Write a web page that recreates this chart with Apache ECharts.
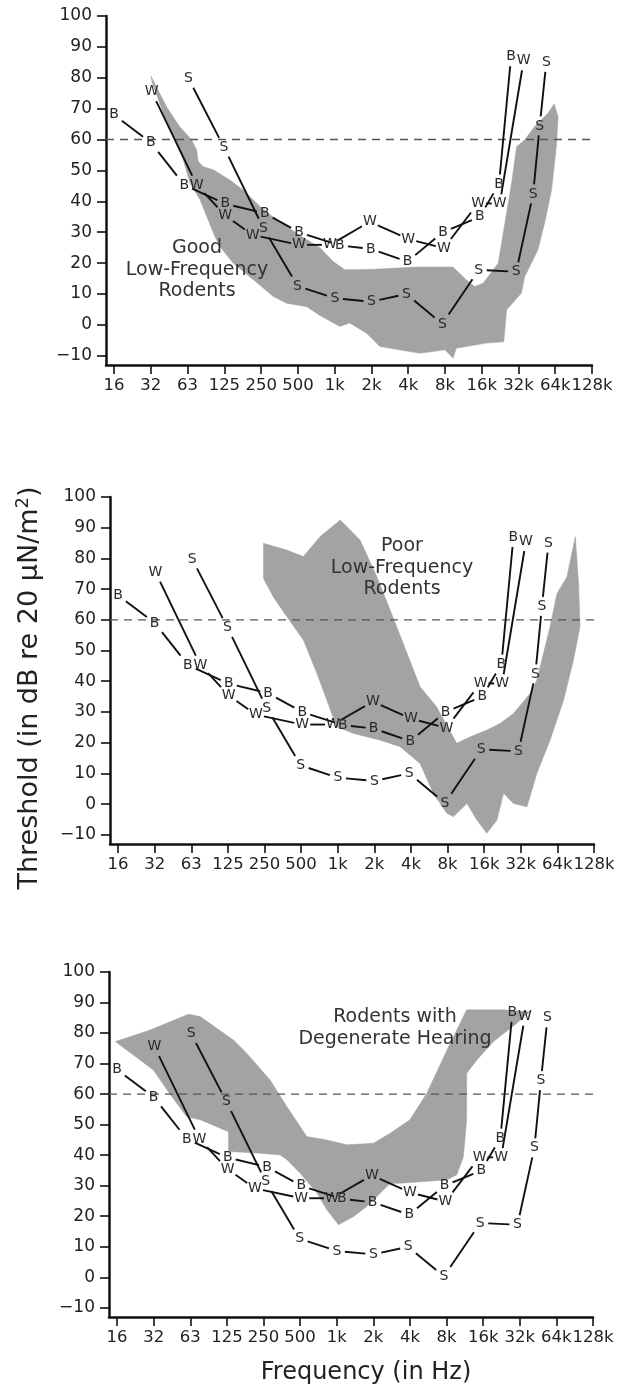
<!DOCTYPE html>
<html><head><meta charset="utf-8">
<script src="https://cdn.jsdelivr.net/npm/echarts@6/dist/echarts.min.js"></script>
<style>html,body{margin:0;padding:0;background:#fff}#c{width:624px;height:1387px}</style>
</head><body><div id="c"></div>
<script>
// ---------- data ----------
const freqTickHz = [16,32,64,128,256,512,1024,2048,4096,8192,16384,32768,65536,131072];
const freqTickLabels = ['16','32','63','125','250','500','1k','2k','4k','8k','16k','32k','64k','128k'];
const dbTicks = [-10,0,10,20,30,40,50,60,70,80,90,100];
const refLevelDb = 60;

// [Hz, dB]
const speciesB = [[16,68],[32,59],[60,45.3],[130,39.2],[274,36.1],[523,30],[1130,25.7],[2020,24.6],[4040,20.5],[7900,30],[15800,35],[22700,45.6],[28500,86.8]];
const speciesW = [[32.5,75.5],[76,45.3],[130,35.4],[218,29.1],[523,25.9],[936,25.9],[1990,33.4],[4100,27.8],[8020,24.8],[15300,39.4],[23000,39.2],[36100,85.5]];
const speciesS = [[65,79.8],[127,57.5],[267,31.3],[508,12.6],[1028,8.6],[2048,7.5],[3960,10],[7800,0.3],[15500,17.8],[31400,17.2],[43200,42.4],[48900,64.4],[55400,85]];

// shaded ranges, outline [Hz, dB]
const bandGoodLF = [[32,80.6],[43,70.6],[55,64.2],[69,59.9],[76,56.6],[78,53],[86,51.2],[104,50.2],[142,46.9],[182,43.7],[251,38.3],[342,34],[530,29],[776,25],[996,20.5],[1243,17.8],[2120,18],[4770,18.7],[9540,18.7],[12240,14.6],[14360,12.4],[16840,13.5],[22380,20],[23820,26.4],[28720,45.8],[31640,57.7],[36870,59.9],[44450,64.2],[57050,68.5],[64150,71.5],
  [69220,67.4],[66900,57.7],[61150,43.7],[53600,32.9],[47300,24.3],[36870,15.6],[34630,10.3],[26250,4.9],[25350,-1.6],[24830,-5.5],[17920,-5.9],[10150,-7.6],[9540,-10.8],[8192,-8.1],[5110,-9.2],[2400,-7],[1870,-2.7],[1360,0.6],[1130,-0.5],[776,3],[605,5.9],[413,7],[322,9.2],[221,14.6],[151,20],[118,25.3],[107,28.6],[92,35],[81,40.5],[67,45.9],[59,53.4],[49,61],[40.5,68.5],[33,78.2]];
const bandPoorLF = [[251,84.9],[391,82.7],[534,80.6],[734,87.1],[1075,92.5],[1563,86],[2149,74],[3125,57.8],[4870,38.2],[6654,31.7],[9741,19.8],[12590,21.9],[17240,24.1],[22230,26.3],[28530,29.5],[39240,36.1],[44450,40.4],[57050,57.8],[65080,68.6],[78470,74],[92090,87.1],
  [97890,71.9],[100640,57.8],[88870,46.9],[73750,33.9],[57050,20.8],[44450,10],[36870,-0.9],[28530,0.2],[23660,3.5],[20880,-5.2],[17240,-9.5],[14260,-5.2],[11830,0.2],[9150,-4.1],[8080,-3],[6250,3.5],[4870,13.2],[3330,18.7],[2290,20.8],[1380,23],[1003,25.2],[832,33.9],[690,42.6],[534,53.4],[391,61],[302,67.5],[251,73.5]];
const bandDegenerate = [[15.5,77.2],[29.9,81],[61.8,86.2],[77.2,85.4],[145,77.7],[186,73.4],[290,64.6],[399,55.9],[512,49.4],[580,46.1],[849,45],[1243,43.4],[2048,43.9],[2817,47.2],[4096,51.6],[5634,60.3],[8780,76.7],[11990,87.6],[23990,87.6],[39790,87],
  [31000,83.2],[19890,77.2],[14560,71.2],[11990,66.8],[11990,51.6],[11270,39.5],[9950,33.6],[8192,31.9],[3400,30.8],[2817,30.8],[1808,23.2],[1409,19.9],[1060,17.2],[849,22.1],[704,27.6],[512,34.1],[399,38.5],[350,40.1],[226,40.7],[132,41.2],[132,47.7],[77.2,51.6],[59.7,52.6],[41.1,61.4],[31.8,67.9]];

const panelBands = [bandGoodLF, bandPoorLF, bandDegenerate];
const panelNotes = [['Good','Low-Frequency','Rodents'],['Poor','Low-Frequency','Rodents'],['Rodents with','Degenerate Hearing']];
const curves = [['B', speciesB],['W', speciesW],['S', speciesS]];

// ---------- layout ----------
const FONT = 'DejaVu Sans';
const X_MIN = 3.78, X_MAX = 17, Y_MIN = -13, Y_MAX = 100;
const grids = [
  {left:106, top:16,  width:486, height:349},
  {left:110, top:497, width:484, height:347},
  {left:109, top:972, width:484, height:345}
];
const notePos = [[197,270],[402,568],[395,1028]];

const log2 = Math.log2;
const chart = echarts.init(document.getElementById('c'), null, {renderer:'canvas'});

const xAxes = [], yAxes = [], series = [], graphics = [];
grids.forEach((g, i) => {
  xAxes.push({
    type:'value', gridIndex:i, min:X_MIN, max:X_MAX,
    axisLine:{onZero:false, lineStyle:{color:'#111', width:2.5}},
    axisTick:{show:true, customValues:freqTickHz.map(log2), length:9, lineStyle:{color:'#111', width:1.6}},
    axisLabel:{customValues:freqTickHz.map(log2), margin:12, color:'#222', fontFamily:FONT, fontSize:16.5,
      showMinLabel:true, showMaxLabel:true, hideOverlap:false,
      formatter:v => freqTickLabels[Math.round(v) - 4]},
    splitLine:{show:false}
  });
  yAxes.push({
    type:'value', gridIndex:i, min:Y_MIN, max:Y_MAX,
    axisLine:{show:true, onZero:false, lineStyle:{color:'#111', width:2.5}},
    axisTick:{show:true, customValues:dbTicks, length:9, lineStyle:{color:'#111', width:1.6}},
    axisLabel:{customValues:dbTicks, margin:14, color:'#222', fontFamily:FONT, fontSize:17,
      showMinLabel:true, showMaxLabel:true,
      formatter:v => v < 0 ? '\u2212' + Math.abs(v) : String(v)},
    splitLine:{show:false}
  });

  // shaded band
  const band = panelBands[i].map(p => [log2(p[0]), p[1]]);
  series.push({
    type:'custom', xAxisIndex:i, yAxisIndex:i, silent:true, z:1,
    data: band, encode:{x:0, y:1},
    renderItem(params, api) {
      if (params.dataIndex !== 0) return null;
      const pts = band.map(p => api.coord(p));
      return {type:'polygon', shape:{points:pts}, style:{fill:'#a3a3a3', stroke:'#a3a3a3', lineWidth:0.5}};
    }
  });

  // reference dashed line
  series.push({
    type:'line', xAxisIndex:i, yAxisIndex:i, silent:true, z:2, symbol:'none',
    data:[[X_MIN, refLevelDb],[X_MAX, refLevelDb]],
    lineStyle:{color:'#555', width:1.4, type:[8,6]}
  });

  // species curves: segments with gaps around letters, then letters
  curves.forEach(([letter, pts]) => {
    const segs = [];
    for (let k = 0; k < pts.length - 1; k++)
      segs.push([log2(pts[k][0]), pts[k][1], log2(pts[k+1][0]), pts[k+1][1]]);
    series.push({
      type:'custom', xAxisIndex:i, yAxisIndex:i, silent:true, z:3,
      data: segs, encode:{x:[0,2], y:[1,3]},
      renderItem(params, api) {
        const p1 = api.coord([api.value(0), api.value(1)]);
        const p2 = api.coord([api.value(2), api.value(3)]);
        const dx = p2[0]-p1[0], dy = p2[1]-p1[1], L = Math.hypot(dx, dy);
        const ux = dx/L, uy = dy/L;
        const gap = Math.min(7/Math.max(Math.abs(ux),1e-6), 8.5/Math.max(Math.abs(uy),1e-6)) + 1;
        if (L <= 2*gap) return null;
        return {type:'line', shape:{x1:p1[0]+ux*gap, y1:p1[1]+uy*gap, x2:p2[0]-ux*gap, y2:p2[1]-uy*gap},
          style:{stroke:'#111', lineWidth:1.9}};
      }
    });
    series.push({
      type:'custom', xAxisIndex:i, yAxisIndex:i, silent:true, z:4,
      data: pts.map(p => [log2(p[0]), p[1]]), encode:{x:0, y:1},
      renderItem(params, api) {
        const p = api.coord([api.value(0), api.value(1)]);
        return {type:'text', x:p[0], y:p[1],
          style:{text:letter, fill:'#2a2a2a', font:'14px "' + FONT + '"', align:'center', verticalAlign:'middle'}};
      }
    });
  });

  // panel annotation
  graphics.push({
    type:'text', x:notePos[i][0], y:notePos[i][1], z:100,
    style:{text:panelNotes[i].join('\n'), fill:'#333', font:'19px "' + FONT + '"', align:'center', verticalAlign:'middle', lineHeight:21.5}
  });
});

// axis titles
graphics.push({
  type:'text', x:30, y:688, rotation:Math.PI/2, z:100,
  style:{
    text:'{m|Threshold (in dB re 20 \u03bcN/m}{s|2}{m|)}',
    align:'center', verticalAlign:'middle', fill:'#222',
    rich:{
      m:{fontFamily:FONT, fontSize:27, lineHeight:32, fill:'#222'},
      s:{fontFamily:FONT, fontSize:18, lineHeight:18, verticalAlign:'top', fill:'#222'}
    }
  }
});
graphics.push({
  type:'text', x:366, y:1373, z:100,
  style:{text:'Frequency (in Hz)', fill:'#222', font:'24px "' + FONT + '"', align:'center', verticalAlign:'middle'}
});

chart.setOption({
  backgroundColor:'#fff',
  animation:false,
  grid: grids.map(g => Object.assign({containLabel:false}, g)),
  xAxis: xAxes,
  yAxis: yAxes,
  series: series,
  graphic: graphics
});
</script></body></html>
